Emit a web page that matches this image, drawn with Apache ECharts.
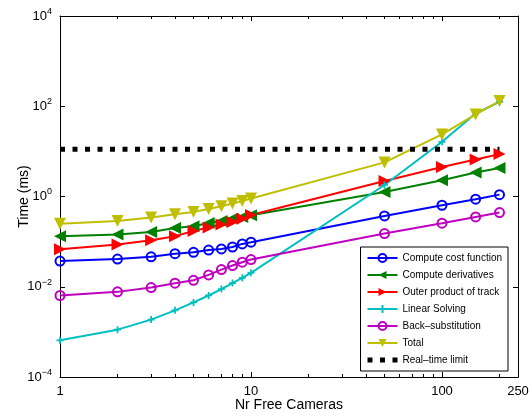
<!DOCTYPE html>
<html>
<head>
<meta charset="utf-8">
<script src="https://cdn.jsdelivr.net/npm/echarts@6/dist/echarts.min.js"></script>
<style>
  html, body { margin: 0; padding: 0; background: #fff; }
  #chart { width: 530px; height: 416px; }
</style>
</head>
<body>
<div id="chart"></div>
<script>
// number of free cameras (x)
const cameras = [1, 2, 3, 4, 5, 6, 7, 8, 9, 10, 50, 100, 150, 200]

// timings in ms
const costFunction = [0.037, 0.041, 0.046, 0.054, 0.058, 0.065, 0.069, 0.076, 0.089, 0.097, 0.37, 0.64, 0.87, 1.1]
const derivatives = [0.132, 0.144, 0.164, 0.2, 0.22, 0.26, 0.288, 0.324, 0.353, 0.385, 1.26, 2.3, 3.4, 4.3]
const outerProduct = [0.068, 0.086, 0.107, 0.132, 0.173, 0.205, 0.24, 0.273, 0.32, 0.39, 2.2, 4.5, 6.6, 8.7]
const linearSolving = [0.00065, 0.00112, 0.00187, 0.003, 0.0045, 0.0064, 0.0089, 0.0121, 0.0158, 0.0203, 1.8, 16.3, 69, 125]
const backSubst = [0.0064, 0.0077, 0.0096, 0.012, 0.0139, 0.0183, 0.024, 0.0295, 0.035, 0.04, 0.151, 0.256, 0.353, 0.44]
const total = [0.25, 0.287, 0.342, 0.405, 0.456, 0.53, 0.61, 0.7, 0.79, 0.9, 5.7, 23.7, 66, 130]

const realTimeX = [1, 200]
const realTimeLimit = 11.1

const FONT = 'Liberation Sans, Arial, sans-serif'
const plusPath = 'path://M3,0h2v3h3v2h-3v3h-2v-3h-3v-2h3z'
const dashIcon = 'path://M0,0h5v5h-5zM12.5,0h5v5h-5zM25,0h5v5h-5z'

const pairs = (ys) => cameras.map((x, i) => [x, ys[i]])

const chart = echarts.init(document.getElementById('chart'))

const mkSeries = (name, ys, color, symbol, opts = {}) => ({
  name,
  type: 'line',
  data: pairs(ys),
  symbol,
  symbolSize: opts.size || 12,
  symbolRotate: opts.rotate || 0,
  lineStyle: { color, width: 2 },
  itemStyle: opts.hollow
    ? { color: 'rgba(0,0,0,0)', borderColor: color, borderWidth: 2 }
    : { color, borderWidth: 0 },
  emphasis: { disabled: true },
  animation: false,
})

const yLabel = (v) => {
  const e = Math.round(Math.log10(v))
  return '{b|10}{e|' + (e < 0 ? '\u2212' + (-e) : e) + '}'
}

const axisBase = {
  axisLine: { lineStyle: { color: '#000', width: 1 } },
  axisTick: { inside: true, length: 5, lineStyle: { color: '#000' } },
  splitLine: { show: false },
}

const option = {
  animation: false,
  textStyle: { fontFamily: FONT },
  grid: { left: 60, top: 16, right: 12, bottom: 39, outerBoundsMode: 'none', containLabel: false },
  legend: {
    orient: 'vertical',
    right: 22,
    bottom: 45,
    backgroundColor: '#fff',
    borderColor: '#000',
    borderWidth: 1,
    borderRadius: 0,
    padding: [6, 6, 6, 6],
    itemWidth: 30,
    itemHeight: 10,
    itemGap: 7,
    textStyle: { fontSize: 10, color: '#000', fontFamily: FONT },
    data: ['Compute cost function', 'Compute derivatives', 'Outer product of track',
      'Linear Solving', 'Back\u2013substitution', 'Total',
      { name: 'Real\u2013time limit', icon: dashIcon }],
  },
  xAxis: [
    {
      ...axisBase,
      type: 'log',
      min: 1,
      max: 250,
      name: 'Nr Free Cameras',
      nameLocation: 'middle',
      nameGap: 21,
      nameMoveOverlap: false,
      nameTextStyle: { fontSize: 14, color: '#000' },
      minorTick: { show: true, splitNumber: 9, length: 3, lineStyle: { color: '#000' } },
      axisLabel: { fontSize: 13, color: '#000', margin: 8, showMaxLabel: true },
    },
    {
      ...axisBase,
      type: 'log',
      min: 1,
      max: 250,
      position: 'top',
      minorTick: { show: true, splitNumber: 9, length: 3, lineStyle: { color: '#000' } },
      axisLabel: { show: false },
    },
  ],
  yAxis: [
    {
      ...axisBase,
      type: 'log',
      min: 1e-4,
      max: 1e4,
      interval: 2,
      name: 'Time (ms)',
      nameLocation: 'middle',
      nameGap: 29,
      nameMoveOverlap: false,
      nameTextStyle: { fontSize: 14, color: '#000' },
      axisLabel: {
        margin: 8,
        color: '#000',
        formatter: yLabel,
        rich: {
          b: { fontSize: 13, color: '#000', fontFamily: FONT },
          e: { fontSize: 9, color: '#000', fontFamily: FONT, padding: [0, 0, 9, 0] },
        },
      },
    },
    {
      ...axisBase,
      type: 'log',
      min: 1e-4,
      max: 1e4,
      interval: 2,
      position: 'right',
      axisLabel: { show: false },
    },
  ],
  series: [
    mkSeries('Compute cost function', costFunction, '#0000ff', 'circle', { size: 9, hollow: true }),
    mkSeries('Compute derivatives', derivatives, '#008000', 'triangle', { rotate: 90 }),
    mkSeries('Outer product of track', outerProduct, '#ff0000', 'triangle', { rotate: -90 }),
    mkSeries('Linear Solving', linearSolving, '#00bfbf', plusPath, { size: 7 }),
    mkSeries('Back\u2013substitution', backSubst, '#bf00bf', 'circle', { size: 9, hollow: true }),
    mkSeries('Total', total, '#bfbf00', 'triangle', { rotate: 180 }),
    {
      name: 'Real\u2013time limit',
      type: 'line',
      data: realTimeX.map((x) => [x, realTimeLimit]),
      symbol: 'none',
      symbolKeepAspect: true,
      lineStyle: { color: '#000', width: 5, type: [5, 7.5] },
      itemStyle: { color: '#000' },
      emphasis: { disabled: true },
      animation: false,
    },
  ],
}

chart.setOption(option)
</script>
</body>
</html>
